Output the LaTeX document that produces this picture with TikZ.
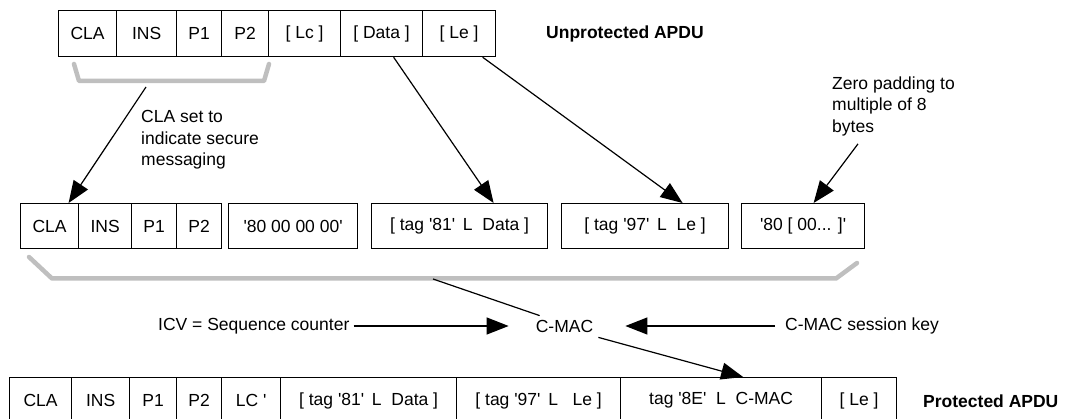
\documentclass[tikz,border=0pt]{standalone}
\usepackage{fontspec}
\setmainfont{Liberation Sans}[Ligatures=TeXOff]
\usetikzlibrary{arrows.meta}
\begin{document}
\begin{tikzpicture}[x=1pt,y=-1pt,
  every node/.style={font=\fontsize{17.5}{21.5}\selectfont},
  cell/.style={draw=black, line width=1.2pt, rectangle, inner sep=0pt, anchor=north west},
  lbl/.style={inner sep=0pt, anchor=west, align=left},
  bold/.style={inner sep=0pt, anchor=west, font=\fontsize{17.5}{21.5}\selectfont\bfseries},
  brace/.style={draw=black!25, line width=4.5pt, line join=round, line cap=round},
  conn/.style={draw=black, line width=1.2pt},
  arr/.style={conn, -{Triangle[length=22pt,width=17pt]}}
]
\useasboundingbox (0,0) rectangle (1070,419);
% top row
\node[cell, minimum width=58, minimum height=46] (t1) at (58,10) {CLA};
\node[cell, minimum width=60, minimum height=46] (t2) at (116,10) {INS};
\node[cell, minimum width=45, minimum height=46] (t3) at (176,10) {P1};
\node[cell, minimum width=47, minimum height=46] (t4) at (221,10) {P2};
\node[cell, minimum width=72, minimum height=46] (t5) at (268,10) {[ Lc ]};
\node[cell, minimum width=82, minimum height=46] (t6) at (340,10) {[ Data ]};
\node[cell, minimum width=73, minimum height=46] (t7) at (422,10) {[ Le ]};
\node[bold] (unp) at (546,34) {Unprotected APDU};
% middle row
\node[cell, minimum width=58, minimum height=45] (m1) at (20,203) {CLA};
\node[cell, minimum width=53, minimum height=45] (m2) at (78,203) {INS};
\node[cell, minimum width=45, minimum height=45] (m3) at (131,203) {P1};
\node[cell, minimum width=45, minimum height=45] (m4) at (176,203) {P2};
\node[cell, minimum width=129, minimum height=45] (m5) at (228,203) {'80 00 00 00'};
\node[cell, minimum width=176, minimum height=45] (m6) at (371,203) {[ tag '81'\,\ L\ \ Data ]};
\node[cell, minimum width=167, minimum height=45] (m7) at (561,203) {[ tag '97'\,\ L\ \ Le ]};
\node[cell, minimum width=123, minimum height=45] (m8) at (741,203) {'80 [ 00... ]'};
% bottom row
\node[cell, minimum width=62, minimum height=46] (b1) at (9,377) {CLA};
\node[cell, minimum width=58, minimum height=46] (b2) at (71,377) {INS};
\node[cell, minimum width=47, minimum height=46] (b3) at (129,377) {P1};
\node[cell, minimum width=45, minimum height=46] (b4) at (176,377) {P2};
\node[cell, minimum width=59, minimum height=46] (b5) at (221,377) {LC '};
\node[cell, minimum width=176, minimum height=46] (b6) at (280,377) {[ tag '81'\,\ L\ \ Data ]};
\node[cell, minimum width=164, minimum height=46] (b7) at (456,377) {[ tag '97'\,\ L\ \ \ Le ]};
\node[cell, minimum width=201, minimum height=46] (b8) at (620,377) {tag '8E'\ \ L\ \ C-MAC};
\node[cell, minimum width=75, minimum height=46] (b9) at (821,377) {[ Le ]};
\node[bold] (pro) at (923,401) {Protected APDU};
% labels
\node[lbl] (cla) at (141,140) {CLA set to\\indicate secure\\messaging};
\node[lbl] (zero) at (832,106) {Zero padding to\\multiple of 8\\bytes};
\node[lbl] (icv) at (158,326) {ICV = Sequence counter};
\node[inner sep=3pt] (cmac) at (564.5,326) {C-MAC};
\node[lbl] (key) at (785,326) {C-MAC session key};
% braces
\draw[brace] (74,64) -- (79,81) -- (264,81) -- (269,64);
\coordinate (br1) at (146,87);
\draw[brace] (29,257) -- (52,278.5) -- (836,278.5) -- (857,263);
\coordinate (br2) at (433,279);
% connectors
\draw[arr] (br1) -- ([xshift=19]m1.north);
\draw[arr] ([xshift=12]t6.south) -- ([xshift=34]m6.north);
\draw[arr] ([xshift=23.5]t7.south) -- ([xshift=37.5]m7.north);
\draw[arr] ([xshift=26,yshift=-8]zero.south west) -- ([xshift=10.5]m8.north);
\draw[conn] (br2) -- ([xshift=7,yshift=1]cmac.north west);
\draw[arr] ([xshift=4]icv.east) -- ([xshift=-24]cmac.west);
\draw[arr] ([xshift=-10]key.west) -- ([xshift=29]cmac.east);
\draw[arr] ([xshift=2,yshift=-2]cmac.south east) -- ([xshift=22]b8.north);
\end{tikzpicture}
\end{document}
